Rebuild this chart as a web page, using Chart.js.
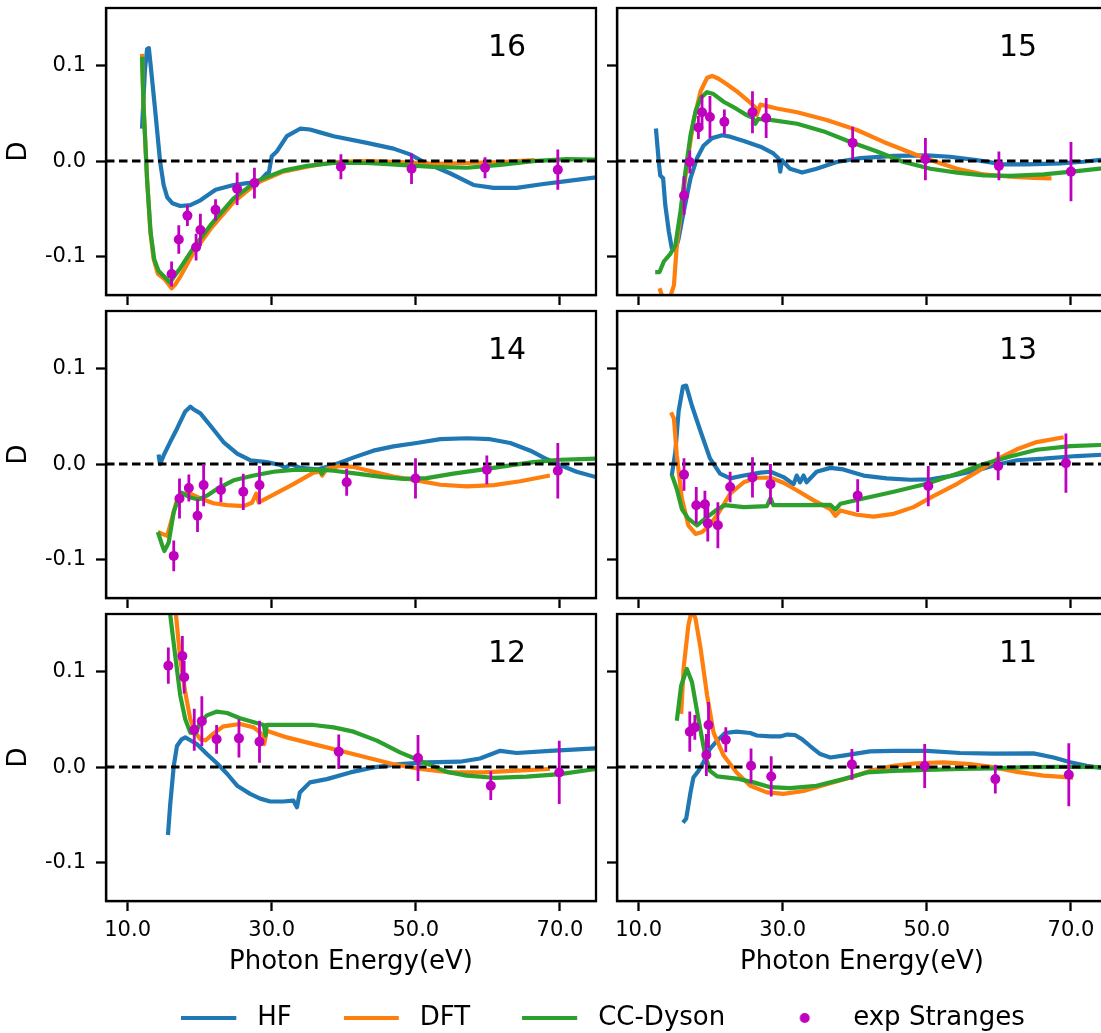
<!DOCTYPE html>
<html>
<head>
<meta charset="utf-8">
<script src="https://cdn.jsdelivr.net/npm/chart.js@4.4.1/dist/chart.umd.min.js"></script>
<style>
html, body { margin: 0; padding: 0; background: #fff; }
body { position: relative; width: 1101px; height: 1033px; overflow: hidden; }
canvas { position: absolute; }
</style>
</head>
<body>
<script>
// axes
const xTicks = [10, 30, 50, 70];
const yTicks = [-0.1, 0.0, 0.1];
const xMin = 7, xMax = 75, yMin = -0.14, yMax = 0.16;
const seriesNames = ["HF", "DFT", "CC-Dyson", "exp Stranges"];
const seriesColors = ["#1f77b4", "#ff7f0e", "#2ca02c", "#bf00bf"];
const panelLabels = ["16", "15", "14", "13", "12", "11"];

// orbital 16
const hf16 = [[12.0,0.034],[12.4,0.095],[12.7,0.117],[12.95,0.118],[13.2,0.1],[13.8,0.055],[14.5,0.0],[15.0,-0.025],[15.5,-0.038],[16.2,-0.044],[17.3,-0.047],[18.7,-0.046],[20.1,-0.041],[22.2,-0.030],[24.7,-0.025],[26.6,-0.023],[28.2,-0.022],[29.3,-0.013],[29.6,-0.012],[30.0,0.005],[30.7,0.010],[32.1,0.026],[34.0,0.034],[35.3,0.033],[36.7,0.030],[38.6,0.026],[43.2,0.019],[46.9,0.013],[49.2,0.007],[51.1,-0.001],[54.8,-0.013],[58.0,-0.025],[60.8,-0.028],[64.0,-0.028],[67.7,-0.024],[70.9,-0.021],[75.0,-0.017]];
const dft16 = [[12.0,0.112],[12.2,0.059],[12.7,-0.018],[13.15,-0.074],[13.6,-0.102],[14.2,-0.118],[15.2,-0.124],[16.1,-0.133],[16.6,-0.129],[17.3,-0.121],[19.2,-0.095],[21.5,-0.071],[24.7,-0.043],[27.9,-0.023],[31.6,-0.011],[34.9,-0.006],[38.6,-0.001],[43.2,0.0],[47.8,-0.001],[52.4,-0.003],[57.1,-0.002],[61.7,-0.001],[66.5,0.001]];
const cc16 = [[12.0,0.109],[12.2,0.06],[12.7,-0.02],[13.2,-0.075],[13.7,-0.103],[14.3,-0.115],[15.1,-0.121],[15.9,-0.127],[16.5,-0.12],[17.3,-0.112],[19.2,-0.09],[21.5,-0.067],[24.7,-0.039],[27.9,-0.021],[31.6,-0.01],[34.9,-0.005],[38.6,-0.002],[43.2,-0.002],[47.8,-0.004],[52.4,-0.006],[57.1,-0.007],[61.7,-0.004],[66.3,0.0],[70.9,0.002],[75.0,0.0015]];
const exp16E = [16.1, 17.1, 18.3, 19.5, 20.1, 22.2, 25.2, 27.6, 39.6, 49.4, 59.6, 69.7];
const exp16D = [-0.118, -0.082, -0.057, -0.090, -0.072, -0.051, -0.029, -0.023, -0.006, -0.008, -0.007, -0.009];
const exp16Err = [0.013, 0.015, 0.011, 0.014, 0.017, 0.011, 0.017, 0.016, 0.013, 0.016, 0.011, 0.021];

// orbital 15
const hf15 = [[12.4,0.034],[12.8,-0.001],[13.0,-0.015],[13.4,-0.018],[13.7,-0.046],[14.2,-0.074],[14.6,-0.091],[15.1,-0.093],[15.55,-0.081],[16.25,-0.053],[17.2,-0.018],[18.1,0.003],[19.0,0.016],[20.2,0.024],[21.6,0.027],[22.7,0.0255],[24.6,0.021],[26.9,0.015],[28.7,0.008],[29.4,0.003],[29.65,-0.011],[29.9,0.001],[31.0,-0.008],[32.7,-0.012],[34.7,-0.008],[37.5,-0.001],[40.8,0.003],[45.4,0.0055],[50.0,0.006],[53.2,0.0045],[56.9,0.001],[60.6,-0.0035],[63.9,-0.0035],[68.5,-0.0024],[71.7,-0.0007],[75.0,0.002]];
const dft15 = [[12.9,-0.133],[13.5,-0.146],[14.3,-0.144],[14.9,-0.13],[15.3,-0.088],[16.0,-0.046],[16.7,-0.004],[17.6,0.041],[18.6,0.073],[19.5,0.087],[20.2,0.089],[21.1,0.086],[22.3,0.08],[23.6,0.073],[25.5,0.061],[26.2,0.056],[26.4,0.048],[26.9,0.059],[29.2,0.055],[32.0,0.051],[36.1,0.043],[40.3,0.0325],[44.0,0.020],[47.7,0.009],[50.5,0.001],[54.2,-0.008],[57.9,-0.014],[61.6,-0.0164],[64.8,-0.0175],[67.3,-0.018]];
const cc15 = [[12.3,-0.116],[12.9,-0.116],[13.5,-0.105],[14.4,-0.097],[15.1,-0.088],[15.8,-0.053],[16.5,-0.011],[17.2,0.027],[17.9,0.052],[18.6,0.066],[19.5,0.072],[20.4,0.070],[21.8,0.062],[23.6,0.0545],[25.0,0.048],[25.9,0.045],[26.2,0.039],[26.6,0.044],[28.3,0.043],[32.0,0.039],[35.7,0.031],[39.4,0.020],[43.1,0.010],[46.8,-0.001],[50.5,-0.008],[54.2,-0.012],[57.9,-0.015],[61.6,-0.0154],[66.2,-0.014],[70.8,-0.0105],[75.0,-0.007]];
const exp15E = [16.3, 17.1, 18.3, 18.8, 19.9, 21.9, 25.8, 27.7, 39.7, 49.8, 60.0, 70.0];
const exp15D = [-0.036, -0.001, 0.035, 0.051, 0.046, 0.041, 0.051, 0.045, 0.019, 0.002, -0.005, -0.011];
const exp15Err = [0.020, 0.012, 0.012, 0.018, 0.022, 0.013, 0.022, 0.021, 0.017, 0.022, 0.015, 0.031];

// orbital 14
const hf14 = [[14.3,0.01],[14.5,0.0],[15.0,0.009],[15.9,0.023],[16.85,0.037],[18.0,0.055],[18.7,0.06],[19.2,0.057],[20.1,0.053],[21.5,0.040],[23.3,0.023],[25.2,0.011],[27.0,0.004],[29.3,0.002],[31.2,-0.001],[31.9,-0.004],[32.6,0.0],[34.0,-0.004],[36.3,-0.0056],[38.6,-0.001],[41.4,0.007],[44.1,0.014],[46.9,0.0185],[50.1,0.022],[53.4,0.026],[57.1,0.027],[60.3,0.026],[63.1,0.022],[65.9,0.014],[68.2,0.005],[70.0,-0.001],[72.3,-0.008],[75.0,-0.0136]];
const dft14 = [[14.2,-0.071],[14.8,-0.073],[15.5,-0.075],[16.15,-0.057],[16.9,-0.036],[17.8,-0.031],[18.7,-0.031],[20.1,-0.036],[21.9,-0.041],[23.8,-0.043],[26.1,-0.044],[27.25,-0.0405],[27.85,-0.031],[28.2,-0.04],[30.25,-0.032],[33.0,-0.021],[35.8,-0.009],[36.7,-0.008],[37.0,-0.012],[37.65,-0.005],[39.5,-0.002],[41.35,-0.003],[44.1,-0.008],[46.9,-0.013],[50.1,-0.017],[53.4,-0.0216],[57.1,-0.0234],[60.8,-0.022],[64.5,-0.018],[68.6,-0.012]];
const cc14 = [[14.2,-0.071],[14.8,-0.085],[15.1,-0.091],[15.7,-0.082],[16.4,-0.05],[17.1,-0.035],[17.5,-0.030],[18.7,-0.035],[19.85,-0.037],[21.0,-0.033],[22.4,-0.026],[24.7,-0.017],[27.5,-0.012],[30.25,-0.008],[33.0,-0.006],[36.7,-0.006],[36.95,-0.01],[37.2,-0.006],[38.6,-0.007],[41.8,-0.010],[45.5,-0.0136],[48.3,-0.0154],[51.5,-0.0147],[55.2,-0.010],[59.4,-0.0056],[63.1,-0.0014],[66.3,0.002],[70.0,0.0045],[75.0,0.0056]];
const exp14E = [16.4, 17.2, 18.5, 19.7, 20.55, 22.95, 26.05, 28.3, 40.4, 49.95, 59.85, 69.7];
const exp14D = [-0.096, -0.036, -0.025, -0.054, -0.022, -0.027, -0.029, -0.022, -0.019, -0.015, -0.006, -0.007];
const exp14Err = [0.016, 0.021, 0.014, 0.017, 0.022, 0.013, 0.019, 0.020, 0.014, 0.021, 0.015, 0.029];

// orbital 13
const hf13 = [[14.6,-0.012],[15.1,0.013],[15.55,0.055],[16.15,0.081],[16.6,0.082],[17.4,0.061],[18.6,0.034],[19.9,0.006],[21.3,-0.010],[22.7,-0.015],[24.6,-0.012],[26.9,-0.009],[28.3,-0.008],[30.1,-0.0136],[31.5,-0.021],[31.95,-0.012],[32.4,-0.019],[32.9,-0.012],[33.3,-0.019],[34.7,-0.008],[36.6,-0.004],[38.4,-0.0056],[41.2,-0.012],[44.45,-0.015],[47.7,-0.0164],[50.5,-0.016],[53.2,-0.0126],[56.9,-0.0066],[59.7,-0.0007],[62.5,0.004],[66.2,0.0056],[70.8,0.0084],[75.0,0.01]];
const dft13 = [[14.5,0.054],[14.9,0.0475],[15.3,0.009],[16.0,-0.036],[16.9,-0.064],[17.9,-0.073],[18.8,-0.071],[19.9,-0.064],[21.3,-0.0485],[22.7,-0.031],[24.6,-0.019],[26.4,-0.0143],[28.3,-0.0143],[30.1,-0.0195],[32.0,-0.0276],[34.3,-0.038],[36.6,-0.047],[37.3,-0.054],[38.0,-0.0485],[40.3,-0.053],[42.6,-0.055],[45.4,-0.052],[48.15,-0.045],[50.9,-0.0335],[54.2,-0.0206],[56.9,-0.0084],[59.7,0.005],[62.5,0.0154],[65.25,0.023],[69.0,0.028]];
const cc13 = [[14.6,-0.011],[15.3,-0.026],[16.0,-0.047],[16.9,-0.057],[18.1,-0.064],[19.5,-0.0555],[20.9,-0.0475],[22.0,-0.043],[24.6,-0.045],[27.8,-0.044],[28.3,-0.0356],[28.7,-0.043],[32.0,-0.043],[36.6,-0.0426],[37.3,-0.0475],[38.0,-0.0415],[41.2,-0.036],[45.4,-0.029],[50.0,-0.0206],[54.2,-0.010],[57.9,0.0],[61.55,0.008],[65.25,0.015],[69.9,0.0188],[75.0,0.0202]];
const exp13E = [16.3, 18.0, 19.2, 19.6, 21.0, 22.7, 25.8, 28.3, 40.4, 50.2, 59.9, 69.3];
const exp13D = [-0.011, -0.043, -0.042, -0.062, -0.064, -0.024, -0.014, -0.021, -0.033, -0.023, -0.002, 0.001];
const exp13Err = [0.017, 0.019, 0.014, 0.019, 0.024, 0.016, 0.021, 0.021, 0.017, 0.021, 0.015, 0.031];

// orbital 12
const hf12 = [[15.6,-0.071],[15.9,-0.040],[16.4,0.001],[16.85,0.022],[17.5,0.029],[18.0,0.031],[18.7,0.028],[19.6,0.024],[21.0,0.0136],[22.4,0.004],[23.8,-0.007],[25.2,-0.0195],[27.0,-0.028],[28.4,-0.033],[29.8,-0.036],[31.6,-0.036],[33.0,-0.035],[33.5,-0.042],[33.9,-0.0265],[35.3,-0.016],[37.65,-0.0126],[40.9,-0.0056],[44.1,-0.0003],[47.8,0.003],[51.5,0.005],[56.1,0.0056],[58.9,0.009],[61.7,0.017],[64.0,0.0147],[68.6,0.017],[75.0,0.0195]];
const dft12 = [[16.2,0.19],[16.7,0.16],[17.3,0.113],[18.0,0.078],[18.7,0.050],[19.4,0.036],[20.1,0.029],[20.8,0.028],[21.9,0.035],[23.3,0.0426],[25.6,0.045],[27.5,0.0415],[28.6,0.0346],[28.95,0.024],[29.3,0.038],[32.1,0.031],[35.8,0.024],[39.5,0.017],[43.2,0.010],[46.9,0.003],[50.6,-0.002],[54.8,-0.0056],[59.4,-0.0056],[64.0,-0.0038],[68.6,-0.002]];
const cc12 = [[15.4,0.19],[15.9,0.16],[16.6,0.117],[17.3,0.075],[18.0,0.050],[18.7,0.036],[19.4,0.035],[20.1,0.047],[21.0,0.054],[22.4,0.058],[23.8,0.0565],[25.6,0.051],[27.9,0.046],[28.9,0.044],[29.15,0.033],[29.3,0.044],[32.1,0.044],[35.8,0.044],[38.6,0.0415],[41.35,0.037],[44.6,0.0276],[47.8,0.0154],[51.1,0.005],[54.3,-0.005],[57.1,-0.009],[60.8,-0.0112],[65.4,-0.010],[70.0,-0.0073],[75.0,-0.002]];
const exp12E = [15.65, 17.6, 17.85, 19.25, 20.3, 22.35, 25.45, 28.3, 39.3, 50.3, 60.4, 69.9];
const exp12D = [0.106, 0.116, 0.094, 0.039, 0.048, 0.029, 0.030, 0.0265, 0.016, 0.0094, -0.0195, -0.0056];
const exp12Err = [0.019, 0.021, 0.017, 0.022, 0.026, 0.015, 0.020, 0.022, 0.018, 0.024, 0.015, 0.033];

// orbital 11
const hf11 = [[16.15,-0.058],[16.6,-0.054],[17.2,-0.0265],[17.6,-0.011],[18.3,-0.004],[19.0,0.005],[19.9,0.019],[20.9,0.0276],[22.0,0.0356],[23.6,0.037],[25.5,0.0356],[26.4,0.033],[28.3,0.032],[29.65,0.032],[30.6,0.034],[31.7,0.0335],[32.7,0.029],[33.8,0.022],[35.2,0.0136],[36.6,0.010],[38.4,0.012],[42.1,0.0164],[45.4,0.017],[50.0,0.017],[54.6,0.0147],[59.2,0.014],[64.8,0.0143],[67.6,0.010],[69.9,0.005],[72.2,0.0014],[75.0,-0.002]];
const dft11 = [[15.9,0.0555],[16.25,0.104],[16.9,0.148],[17.4,0.165],[17.9,0.155],[18.6,0.124],[19.5,0.075],[20.4,0.036],[21.8,0.012],[23.6,-0.0056],[25.5,-0.0195],[27.8,-0.0265],[30.1,-0.028],[32.9,-0.025],[36.1,-0.018],[39.4,-0.011],[42.1,-0.004],[45.4,0.0014],[48.6,0.004],[52.3,0.005],[56.0,0.003],[59.2,0.0],[62.5,-0.005],[66.2,-0.009],[70.3,-0.011]];
const cc11 = [[15.3,0.0485],[15.9,0.085],[16.7,0.1026],[17.4,0.089],[18.3,0.050],[19.25,0.012],[19.9,-0.004],[20.9,-0.0098],[23.6,-0.012],[25.95,-0.016],[28.3,-0.021],[31.0,-0.022],[34.7,-0.0195],[38.4,-0.0126],[41.7,-0.0056],[45.4,-0.004],[50.0,-0.003],[54.6,-0.002],[59.2,-0.0014],[63.9,0.0],[68.5,0.0003],[75.0,0.0]];
const exp11E = [17.1, 17.8, 19.4, 19.7, 22.1, 25.6, 28.4, 39.6, 49.7, 59.5, 69.7];
const exp11D = [0.037, 0.0415, 0.0126, 0.044, 0.0286, 0.0014, -0.0098, 0.0028, 0.001, -0.0126, -0.008];
const exp11Err = [0.021, 0.013, 0.022, 0.024, 0.013, 0.018, 0.021, 0.016, 0.023, 0.015, 0.033];

const panels = [
    {hf: hf16, dft: dft16, cc: cc16, e: exp16E, d: exp16D, err: exp16Err},
    {hf: hf15, dft: dft15, cc: cc15, e: exp15E, d: exp15D, err: exp15Err},
    {hf: hf14, dft: dft14, cc: cc14, e: exp14E, d: exp14D, err: exp14Err},
    {hf: hf13, dft: dft13, cc: cc13, e: exp13E, d: exp13D, err: exp13Err},
    {hf: hf12, dft: dft12, cc: cc12, e: exp12E, d: exp12D, err: exp12Err},
    {hf: hf11, dft: dft11, cc: cc11, e: exp11E, d: exp11D, err: exp11Err}
];

// layout of the 3x2 grid
const colLeft = [106, 617];
const rowTop = [8, 311, 614];
const plotW = 490, plotH = 287;
const padL = 106, padT = 30, padR = 12, padB = 100;
const labelX = 60, labelY = 0.11;

Chart.defaults.font.family = "'DejaVu Sans', sans-serif";
Chart.defaults.color = "#000";

const frame = {
    id: "frame",
    afterDraw(chart) {
        const {ctx, chartArea: a} = chart;
        ctx.save();
        ctx.strokeStyle = "#000";
        ctx.lineWidth = 2.3;
        ctx.strokeRect(a.left, a.top, a.right - a.left, a.bottom - a.top);
        ctx.restore();
    }
};

const panelText = {
    id: "panelText",
    afterDatasetsDraw(chart, args, opts) {
        const {ctx, scales} = chart;
        ctx.save();
        ctx.fillStyle = "#000";
        ctx.font = "30px 'DejaVu Sans'";
        ctx.textAlign = "left";
        ctx.textBaseline = "alphabetic";
        ctx.fillText(opts.text, scales.x.getPixelForValue(labelX), scales.y.getPixelForValue(labelY));
        ctx.restore();
    }
};

function toPoints(pairs) {
    return pairs.map(p => ({x: p[0], y: p[1]}));
}

function lineSet(pairs, color, order) {
    return {data: toPoints(pairs), borderColor: color, borderWidth: 4.2, pointRadius: 0,
            borderJoinStyle: "round", clip: 0, order: order};
}

function makePanel(p, i) {
    const col = i % 2, row = Math.floor(i / 2);
    const isBottom = row === 2, isLeft = col === 0;
    const w = padL + plotW + padR, h = padT + plotH + padB;
    const canvas = document.createElement("canvas");
    canvas.width = w;
    canvas.height = h;
    canvas.style.left = (colLeft[col] - padL) + "px";
    canvas.style.top = (rowTop[row] - padT) + "px";
    canvas.style.width = w + "px";
    canvas.style.height = h + "px";
    document.body.appendChild(canvas);

    const errPoints = [];
    p.e.forEach((x, k) => {
        errPoints.push({x: x, y: p.d[k] - p.err[k]}, {x: x, y: p.d[k] + p.err[k]}, {x: x, y: null});
    });

    new Chart(canvas.getContext("2d"), {
        type: "line",
        data: {
            datasets: [
                {data: p.e.map((x, k) => ({x: x, y: p.d[k]})), showLine: false, pointRadius: 5,
                 pointBackgroundColor: seriesColors[3], pointBorderWidth: 0, clip: 0, order: 0},
                {data: errPoints, borderColor: seriesColors[3], borderWidth: 2.8, pointRadius: 0, clip: 0, order: 1},
                {data: [{x: xMin, y: 0}, {x: xMax, y: 0}], borderColor: "#000", borderWidth: 3,
                 borderDash: [8.5, 4.5], pointRadius: 0, clip: 0, order: 2},
                lineSet(p.cc, seriesColors[2], 3),
                lineSet(p.dft, seriesColors[1], 4),
                lineSet(p.hf, seriesColors[0], 5)
            ]
        },
        options: {
            responsive: false,
            animation: false,
            events: [],
            layout: {padding: {top: padT, right: padR, left: 0, bottom: 0}},
            plugins: {
                legend: {display: false},
                tooltip: {enabled: false},
                panelText: {text: panelLabels[i]}
            },
            scales: {
                x: {
                    type: "linear", min: xMin, max: xMax,
                    afterFit: s => { s.height = padB; },
                    afterBuildTicks: s => { s.ticks = xTicks.map(v => ({value: v})); },
                    ticks: {display: isBottom, autoSkip: false, maxRotation: 0, padding: 7,
                            font: {size: 21}, callback: v => v.toFixed(1)},
                    grid: {drawOnChartArea: false, drawTicks: true, tickLength: 10, tickWidth: 2.3, tickColor: "#000"},
                    border: {display: true, color: "#000", width: 2.3},
                    title: {display: isBottom, text: "Photon Energy(eV)", font: {size: 26},
                            padding: {top: 0, bottom: 23}}
                },
                y: {
                    type: "linear", min: yMin, max: yMax,
                    afterFit: s => { s.width = padL; },
                    afterBuildTicks: s => { s.ticks = yTicks.map(v => ({value: v})); },
                    ticks: {display: isLeft, padding: 10, font: {size: 21}, callback: v => v.toFixed(1)},
                    grid: {drawOnChartArea: false, drawTicks: true, tickLength: 10, tickWidth: 2.3, tickColor: "#000"},
                    border: {display: true, color: "#000", width: 2.3},
                    title: {display: isLeft, text: "D", font: {size: 26}, padding: {top: 4, bottom: 0}}
                }
            }
        },
        plugins: [frame, panelText]
    });
}

panels.forEach(makePanel);

// shared legend along the bottom
function legendSwatch(i) {
    const c = document.createElement("canvas");
    c.width = 63;
    c.height = 26;
    const g = c.getContext("2d");
    if (i < 3) {
        g.strokeStyle = seriesColors[i];
        g.lineWidth = 4.2;
        g.beginPath();
        g.moveTo(0, 13);
        g.lineTo(55, 13);
        g.stroke();
    } else {
        g.fillStyle = seriesColors[3];
        g.beginPath();
        g.arc(27.5, 13, 5, 0, 2 * Math.PI);
        g.fill();
    }
    return c;
}

const lc = document.createElement("canvas");
lc.width = 1206;
lc.height = 200;
lc.style.left = "0px";
lc.style.top = "953px";
lc.style.width = "1206px";
lc.style.height = "200px";
document.body.appendChild(lc);

new Chart(lc.getContext("2d"), {
    type: "line",
    data: {datasets: seriesNames.map((n, i) => ({label: n, data: [], borderColor: seriesColors[i]}))},
    options: {
        responsive: false,
        animation: false,
        events: [],
        scales: {x: {display: false}, y: {display: false}},
        plugins: {
            tooltip: {enabled: false},
            legend: {
                display: true,
                position: "top",
                labels: {
                    usePointStyle: true,
                    pointStyleWidth: 63,
                    padding: 52,
                    font: {size: 26},
                    generateLabels: chart => chart.data.datasets.map((ds, i) => ({
                        text: ds.label, pointStyle: legendSwatch(i), datasetIndex: i,
                        lineWidth: 0, hidden: false, fontColor: "#000"
                    }))
                }
            }
        }
    }
});
</script>
</body>
</html>
